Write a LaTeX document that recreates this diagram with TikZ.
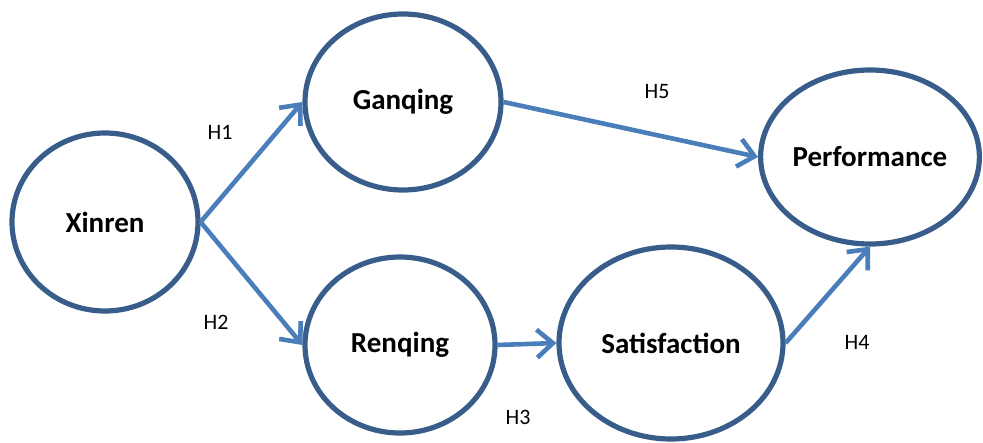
\documentclass[tikz,border=0pt]{standalone}
\usepackage{fontspec}
\setmainfont{Carlito}
\usetikzlibrary{shapes.geometric,arrows.meta}
\definecolor{ringblue}{HTML}{385D8A}
\definecolor{arrowblue}{HTML}{4A7EBB}

\begin{document}
\begin{tikzpicture}[x=0.5pt, y=-0.5pt,
    construct/.style={ellipse, draw=ringblue, line width=2.6pt, inner sep=0pt,
      font=\bfseries\fontsize{14.5}{16}\selectfont},
    hyp/.style={font=\fontsize{11}{13}\selectfont},
    link/.style={draw=arrowblue, line width=2.3pt,
      -{Straight Barb[length=8pt,width=14pt]}}]
          \useasboundingbox (0,0) rectangle (983,443);
          \node[construct, minimum width=93pt, minimum height=89pt](xinren) at (105,222){Xinren};
          \node[construct, minimum width=98pt, minimum height=88pt](ganqing) at (403,102){Ganqing};
          \node[construct, minimum width=95pt, minimum height=88pt](renqing) at (400,345){Renqing};
          \node[construct, minimum width=112pt, minimum height=96pt](satisfaction) at (671,343){Satisfaction};
          \node[construct, minimum width=108pt, minimum height=87pt](performance) at (870,157){Performance};
          \node[hyp](h1) at (220,132){H1};
          \node[hyp](h2) at (216,322){H2};
          \node[hyp](h3) at (518,417){H3};
          \node[hyp](h4) at (857,342){H4};
          \node[hyp](h5) at (657,92){H5};
          \draw[link](xinren.east) -- (ganqing.west);
          \draw[link](xinren.east) -- (renqing.west);
          \draw[link](ganqing.east) -- (performance.west);
          \draw[link](renqing.east) -- (satisfaction.west);
          \draw[link](satisfaction.east) -- (performance.south);
        \end{tikzpicture}
\end{document}
